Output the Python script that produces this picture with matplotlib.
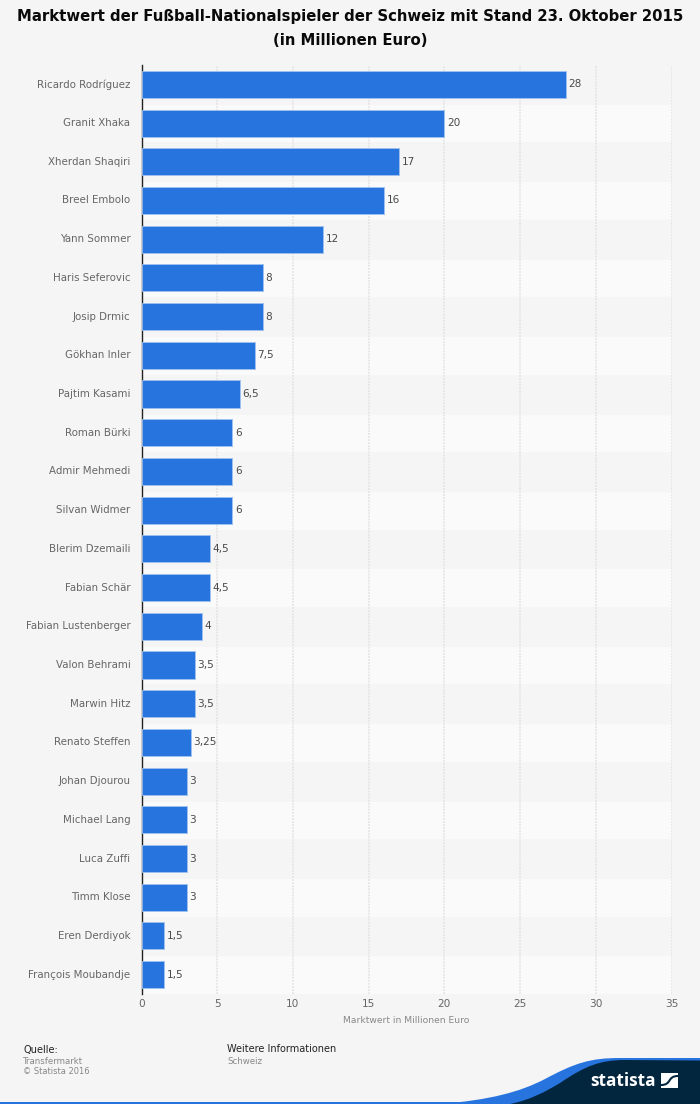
import numpy as np
import matplotlib
matplotlib.use("Agg")
import matplotlib.pyplot as plt
from matplotlib.path import Path
from matplotlib.patches import PathPatch, Rectangle
from matplotlib.transforms import ScaledTranslation

players = ["Ricardo Rodríguez", "Granit Xhaka", "Xherdan Shaqiri", "Breel Embolo", "Yann Sommer",
           "Haris Seferovic", "Josip Drmic", "Gökhan Inler", "Pajtim Kasami", "Roman Bürki",
           "Admir Mehmedi", "Silvan Widmer", "Blerim Dzemaili", "Fabian Schär", "Fabian Lustenberger",
           "Valon Behrami", "Marwin Hitz", "Renato Steffen", "Johan Djourou", "Michael Lang",
           "Luca Zuffi", "Timm Klose", "Eren Derdiyok", "François Moubandje"]
values = [28, 20, 17, 16, 12, 8, 8, 7.5, 6.5, 6, 6, 6, 4.5, 4.5, 4, 3.5, 3.5, 3.25, 3, 3, 3, 3, 1.5, 1.5]
ticks = [0, 5, 10, 15, 20, 25, 30, 35]

BG = "#f5f5f5"
BLUE = "#2874de"
NAVY = "#03263f"
W, H = 700, 1104

fig = plt.figure(figsize=(W / 100, H / 100), dpi=100, facecolor=BG)
ax = fig.add_axes([141.5 / W, 1 - 994 / H, (671.5 - 141.5) / W, (994 - 65) / H], facecolor=BG)

y = np.arange(len(players))
for i in y:
    if i % 2 == 1:
        ax.axhspan(i - 0.47, i + 0.5, color="#fafafa", lw=0, zorder=0)
ax.barh(y, values, height=0.7, color=BLUE, edgecolor="#9fc2f0", linewidth=0.6, zorder=3)

for i, v in zip(y, values):
    ax.text(v + 0.17, i, str(v).replace(".", ","), va="center", ha="left", fontsize=7.6, color="#4a4a4a", zorder=4)

ax.set_xlim(0, 35)
ax.set_ylim(len(players) - 0.5, -0.5)
ax.set_yticks(y, players)
ax.set_xticks(ticks)
ax.tick_params(axis="y", length=0, pad=8, labelsize=7.4, labelcolor="#666666")
ax.tick_params(axis="x", length=0, pad=3.5, labelsize=7.6, labelcolor="#666666")
up = ScaledTranslation(0, 1 / 100, fig.dpi_scale_trans)
for label in ax.get_yticklabels():
    label.set_transform(label.get_transform() + up)
ax.grid(axis="x", color="#e2e2e2", linestyle=(0, (1.2, 0.8)), linewidth=1.1, zorder=1)
ax.set_axisbelow(True)
for s in ["top", "right", "bottom"]:
    ax.spines[s].set_visible(False)
ax.spines["left"].set_color("#222222")
ax.spines["left"].set_linewidth(1)
ax.set_xlabel("Marktwert in Millionen Euro", fontsize=6.6, color="#888888", labelpad=5)

fig.text(0.5, 1 - 28.5 / H, "Marktwert der Fußball-Nationalspieler der Schweiz mit Stand 23. Oktober 2015\n(in Millionen Euro)",
         ha="center", va="center", fontsize=10.7, fontweight="bold", color="#0a0a0a", linespacing=1.8)

# Fusszeile, in Pixeln
over = fig.add_axes([0, 0, 1, 1], facecolor="none")
over.set_xlim(0, W)
over.set_ylim(H, 0)
over.axis("off")
over.text(23, 1049.5, "Quelle:", fontsize=7.1, color="#222222", va="center")
over.text(23, 1061, "Transfermarkt", fontsize=6.2, color="#888888", va="center")
over.text(23, 1072, "© Statista 2016", fontsize=6, color="#888888", va="center")
over.text(227, 1049.5, "Weitere Informationen", fontsize=7, color="#222222", va="center")
over.text(227, 1061, "Schweiz", fontsize=6.2, color="#888888", va="center")

over.add_patch(Rectangle((0, 1102), W, 2, color=BLUE, lw=0))
C4 = Path.CURVE4
codes = [Path.MOVETO, C4, C4, C4, C4, C4, C4, Path.LINETO, Path.LINETO, Path.CLOSEPOLY]
blue = [(440, 1104), (490, 1100), (520, 1092), (545, 1079), (575, 1063), (590, 1058), (620, 1058),
        (700, 1058), (700, 1104), (440, 1104)]
navy = [(510, 1104), (530, 1100), (545, 1092), (560, 1083), (585, 1066), (600, 1060), (625, 1060),
        (700, 1060.5), (700, 1104), (510, 1104)]
over.add_patch(PathPatch(Path(blue, codes), facecolor=BLUE, lw=0))
over.add_patch(PathPatch(Path(navy, codes), facecolor=NAVY, lw=0))
over.text(590, 1081, "statista", fontsize=12.4, fontweight="bold", color="white", va="center", ha="left", family="Open Sans")
over.add_patch(Rectangle((661, 1073), 17, 15, color="white", lw=0))
swoosh = Path([(661, 1085), (672, 1085), (667, 1076), (678, 1076)], [Path.MOVETO, C4, C4, C4])
over.add_patch(PathPatch(swoosh, facecolor="none", edgecolor=NAVY, lw=1.5))

fig.savefig("out.png", dpi=100, facecolor=BG)
